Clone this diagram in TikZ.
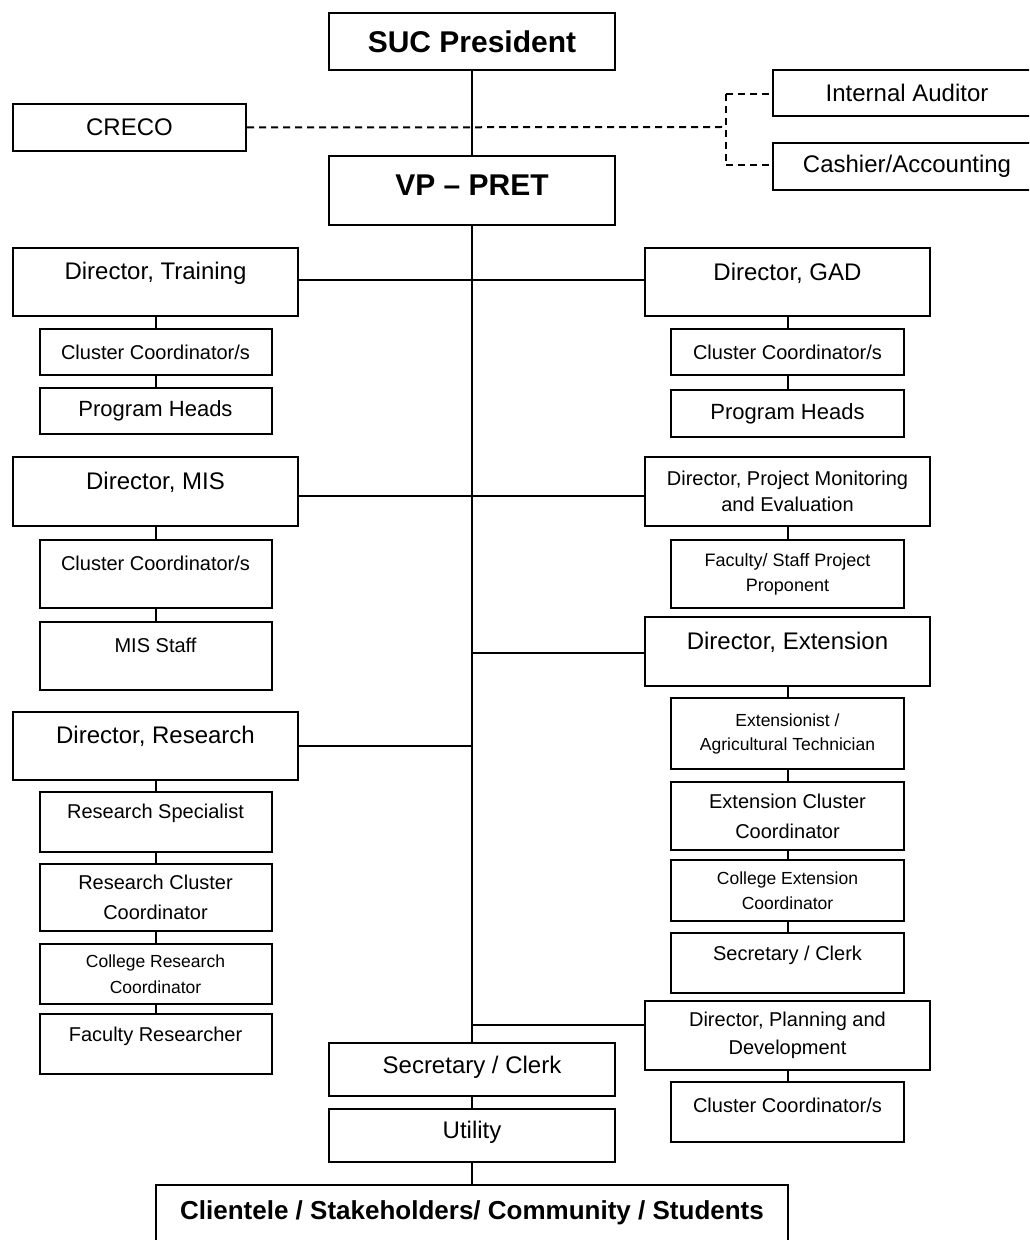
\documentclass[tikz,border=0pt]{standalone}
\usepackage{fontspec}
\setmainfont{Liberation Sans}
\begin{document}
\begin{tikzpicture}[x=0.5pt,y=-0.5pt,
  box/.style={draw, line width=1pt, inner sep=0pt, anchor=north west, align=center},
  wh/.style 2 args={minimum width=#1*0.5pt, minimum height=#2*0.5pt},
  fb15/.style={font=\bfseries\fontsize{15}{18}\selectfont},
  fb13/.style={font=\bfseries\fontsize{13}{16}\selectfont},
  f12/.style={font=\fontsize{12}{14.4}\selectfont},
  f11/.style={font=\fontsize{11}{13.2}\selectfont},
  f10/.style={font=\fontsize{10}{#1}\selectfont},
  f10/.default=12,
  f9/.style={font=\fontsize{9}{#1}\selectfont},
  f9/.default=11,
  f875/.style={font=\fontsize{8.75}{#1}\selectfont},
  f875/.default=10.5,
  ln/.style={line width=1pt},
  dsh/.style={line width=1pt, dash pattern=on 3.5pt off 2.5pt}]
\useasboundingbox (0,0) rectangle (1029,1240);
\fill[white] (0,0) rectangle (1029,1240);
\clip (0,0) rectangle (1029,1240);

% top
\node[box, wh={286}{57}, fb15] (suc) at (328,12) {SUC President};
\node[box, wh={233}{47}, f12] (creco) at (12,103) {CRECO};
\node[box, wh={268}{46}, f12] (audit) at (772,69) {Internal Auditor};
\node[box, wh={268}{47}, f12] (cash) at (772,142) {Cashier/Accounting};
\node[box, wh={286}{69}, label={[fb15, yshift=2.75pt]center:VP – PRET}] (vp) at (328,155) {};

% left column
\node[box, wh={285}{68}, label={[f12, yshift=4.5pt]center:Director, Training}] (dtrain) at (12,247) {};
\node[box, wh={232}{46}, f10] (tcc) at (38.5,328) {Cluster Coordinator/s};
\node[box, wh={232}{46}, f11] (tph) at (38.5,387) {Program Heads};
\node[box, wh={285}{69}, label={[f12, yshift=4.75pt]center:Director, MIS}] (dmis) at (12,456) {};
\node[box, wh={232}{68}, label={[f10, yshift=5.5pt]center:Cluster Coordinator/s}] (mcc) at (38.5,539) {};
\node[box, wh={232}{68}, label={[f10, yshift=5.5pt]center:MIS Staff}] (mstaff) at (38.5,621) {};
\node[box, wh={285}{68}, label={[f12, yshift=5pt]center:Director, Research}] (dres) at (12,711) {};
\node[box, wh={232}{60}, label={[f10, yshift=4.25pt]center:Research Specialist}] (rspec) at (38.5,791) {};
\node[box, wh={232}{67}, f10=15] (rclus) at (38.5,863) {Research Cluster\\Coordinator};
\node[box, wh={232}{60}, f875=12.75] (colres) at (38.5,943) {College Research\\Coordinator};
\node[box, wh={232}{60}, label={[f10, yshift=3.75pt]center:Faculty Researcher}] (facres) at (38.5,1013) {};

% right column
\node[box, wh={285}{68}, label={[f12, yshift=4.5pt]center:Director, GAD}] (dgad) at (644,247) {};
\node[box, wh={233}{46}, f10] (gcc) at (670,328) {Cluster Coordinator/s};
\node[box, wh={233}{47}, f11] (gph) at (670,389) {Program Heads};
\node[box, wh={285}{69}, f10=13.25] (dpme) at (644,456) {Director, Project Monitoring\\and Evaluation};
\node[box, wh={233}{68}, f9=12.5] (fsp) at (670,539) {Faculty/ Staff Project\\Proponent};
\node[box, wh={285}{69}, label={[f12, yshift=4.5pt]center:Director, Extension}] (dext) at (644,616) {};
\node[box, wh={233}{71}, f875=12] (extn) at (670,697) {Extensionist /\\Agricultural Technician};
\node[box, wh={233}{68}, f10=15] (extcc) at (670,781) {Extension Cluster\\Coordinator};
\node[box, wh={233}{61}, f875=12.5] (colext) at (670,859) {College Extension\\Coordinator};
\node[box, wh={233}{60}, label={[f10, yshift=3.75pt]center:Secretary / Clerk}] (secr) at (670,932) {};
\node[box, wh={285}{69}, f10=13.75] (dpd) at (644,1000) {Director, Planning and\\Development};
\node[box, wh={233}{60}, label={[f10, yshift=3.5pt]center:Cluster Coordinator/s}] (pdcc) at (670,1081) {};

% bottom centre
\node[box, wh={286}{53}, label={[f12, yshift=1pt]center:Secretary / Clerk}] (secc) at (328,1042) {};
\node[box, wh={286}{53}, label={[f12, yshift=1.5pt]center:Utility}] (util) at (328,1108) {};
\node[box, wh={632}{76}, label={[fb13, yshift=5pt]center:Clientele / Stakeholders/ Community / Students}] (client) at (155,1184) {};

% junctions
\coordinate (jtr) at (471,280);
\coordinate (jmis) at (471,496);
\coordinate (jext) at (471,653);
\coordinate (jres) at (471,746);
\coordinate (jpd) at (471,1025);
\coordinate (dj) at (726,127);
\coordinate (dt) at (726,94);
\coordinate (db) at (726,165);

% dashed staff links
\draw[dsh] (creco.east) -- (dj);
\draw[dsh] (dt) -- (db);
\draw[dsh] (dt) -- (audit.west |- dt);
\draw[dsh] (db) -- (cash.west |- db);

% trunk
\draw[ln] (suc.south) -- (vp.north);
\draw[ln] (vp.south) -- (secc.north);
\draw[ln] (dtrain.east |- jtr) -- (dgad.west |- jtr);
\draw[ln] (dmis.east |- jmis) -- (dpme.west |- jmis);
\draw[ln] (jext) -- (dext.west |- jext);
\draw[ln] (dres.east |- jres) -- (jres);
\draw[ln] (jpd) -- (dpd.west |- jpd);

% chains
\draw[ln] (dtrain.south) -- (tcc.north);
\draw[ln] (tcc.south) -- (tph.north);
\draw[ln] (dgad.south) -- (gcc.north);
\draw[ln] (gcc.south) -- (gph.north);
\draw[ln] (dmis.south) -- (mcc.north);
\draw[ln] (mcc.south) -- (mstaff.north);
\draw[ln] (dres.south) -- (rspec.north);
\draw[ln] (rspec.south) -- (rclus.north);
\draw[ln] (rclus.south) -- (colres.north);
\draw[ln] (colres.south) -- (facres.north);
\draw[ln] (dpme.south) -- (fsp.north);
\draw[ln] (dext.south) -- (extn.north);
\draw[ln] (extn.south) -- (extcc.north);
\draw[ln] (extcc.south) -- (colext.north);
\draw[ln] (colext.south) -- (secr.north);
\draw[ln] (dpd.south) -- (pdcc.north);
\draw[ln] (secc.south) -- (util.north);
\draw[ln] (util.south) -- (client.north);
\end{tikzpicture}
\end{document}
